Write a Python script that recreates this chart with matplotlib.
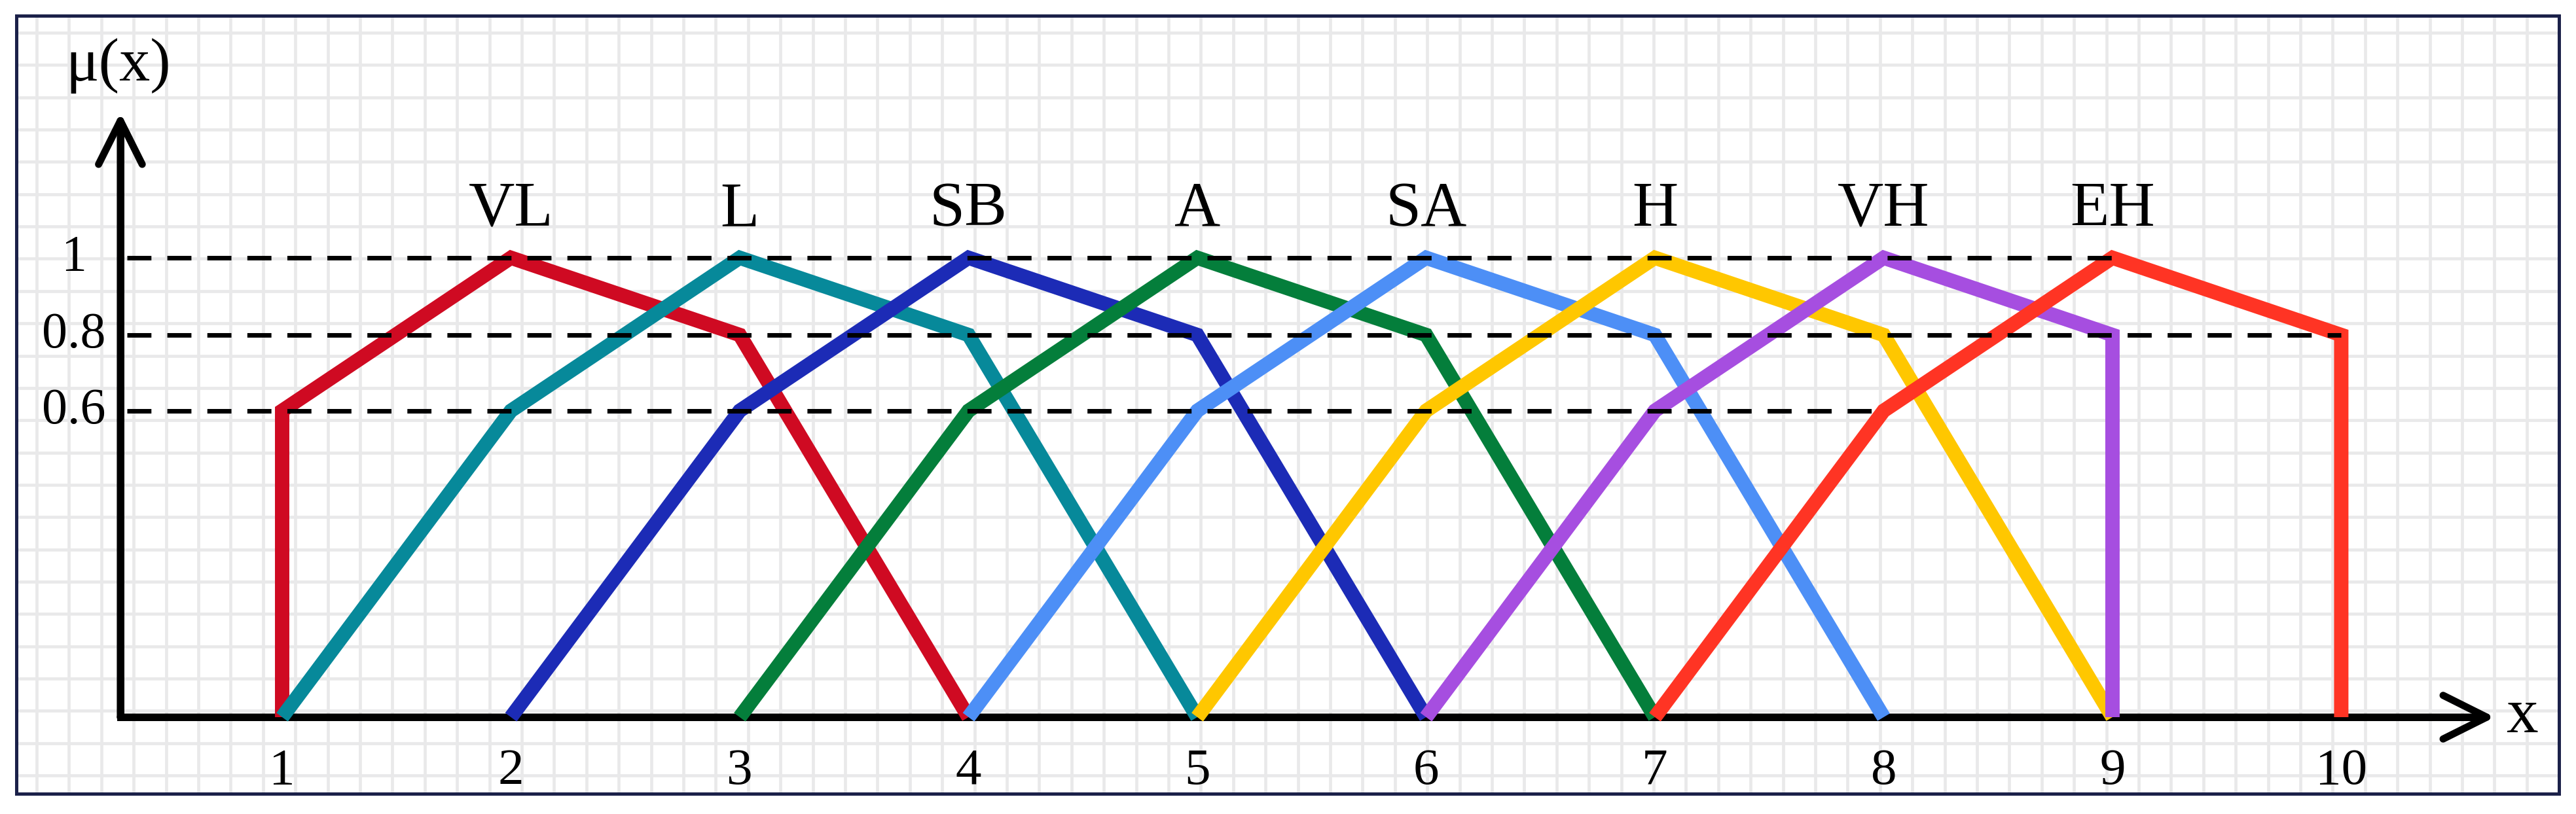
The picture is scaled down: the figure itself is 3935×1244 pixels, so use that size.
import numpy as np
import matplotlib
matplotlib.use("Agg")
import matplotlib.pyplot as plt

plt.rcParams['font.family'] = ['Liberation Serif', 'DejaVu Serif']

# fuzzy sets: break points (x) and membership degrees (mu)
labels = ['VL', 'L', 'SB', 'A', 'SA', 'H', 'VH', 'EH']
set_x = [
    [1, 1, 2, 3, 4],
    [1, 2, 3, 4, 5],
    [2, 3, 4, 5, 6],
    [3, 4, 5, 6, 7],
    [4, 5, 6, 7, 8],
    [5, 6, 7, 8, 9],
    [6, 7, 8, 9, 9],
    [7, 8, 9, 10, 10],
]
set_mu = [
    [0, 0.6, 1, 0.8, 0],
    [0, 0.6, 1, 0.8, 0],
    [0, 0.6, 1, 0.8, 0],
    [0, 0.6, 1, 0.8, 0],
    [0, 0.6, 1, 0.8, 0],
    [0, 0.6, 1, 0.8, 0],
    [0, 0.6, 1, 0.8, 0],
    [0, 0.6, 1, 0.8, 0],
]
peak_x = [2, 3, 4, 5, 6, 7, 8, 9]
colors = ['#cf0a22', '#07899a', '#1c2bb6', '#047e3b', '#4d8ff6',
          '#ffc700', '#a64ee0', '#ff3424']

# reference levels: value and how far the dashed line runs
levels = [1, 0.8, 0.6]
level_end = [9, 10, 8]
level_text = ['1', '0.8', '0.6']
x_ticks = [1, 2, 3, 4, 5, 6, 7, 8, 9, 10]

# the drawing is schematic: 0.6 / 0.8 / 1 are not spaced to scale
y_in = [-5, 0, 0.6, 0.8, 1, 5]
y_out = [-5, 0, 0.667, 0.832, 1, 1 + 4 * 0.84]


def fwd(y):
    return np.interp(y, y_in, y_out)


def inv(u):
    return np.interp(u, y_out, y_in)


W, H = 3935, 1244
fig = plt.figure(figsize=(W / 100, H / 100), dpi=100)

# background: squared paper inside a dark frame
bg = fig.add_axes([25 / W, (H - 1213) / H, (3909 - 25) / W, (1213 - 24) / H])
bg.set_zorder(0)
bg.set_xlim(25, 3909)
bg.set_ylim(1213, 24)
bg.set_xticks(np.arange(56, 3909, 49.4))
bg.set_yticks(np.arange(50, 1213, 49.35))
bg.grid(True, color='#e9e9ea', linewidth=3.4)
bg.tick_params(length=0, labelbottom=False, labelleft=False)
for s in bg.spines.values():
    s.set_color('#1b2149')
    s.set_linewidth(3.6)

ax = fig.add_axes([0, 0, 1, 1])
ax.set_zorder(1)
ax.patch.set_alpha(0)
ax.set_yscale('function', functions=(fwd, inv))
ax.set_xlim(-0.2332, 11.026)
ax.set_ylim(-0.2108, 1.668)
ax.axis('off')

x0 = 0.293      # where the vertical axis stands
y_tip = 1.376
x_tip = 10.671

# axes with open arrow heads
ax.plot([x0, x0, x_tip - 0.05], [y_tip - 0.05, 0, 0], color='black', lw=7.9,
        solid_joinstyle='miter', solid_capstyle='butt', zorder=2)
head = dict(arrowstyle='->, head_length=0.4, head_width=0.2', mutation_scale=120,
            lw=7.9, color='black', shrinkA=0, shrinkB=0, capstyle='round')
ax.annotate('', xy=(x0, y_tip), xytext=(x0, 0), arrowprops=head, zorder=2)
ax.annotate('', xy=(x_tip, 0), xytext=(x0, 0), arrowprops=head, zorder=2)

for xs, ms, c in zip(set_x, set_mu, colors):
    ax.plot(xs, ms, color=c, lw=15.8, solid_joinstyle='miter',
            solid_capstyle='butt', zorder=3)

for lv, end in zip(levels, level_end):
    ax.plot([x0 + 0.03, end], [lv, lv], color='black', lw=5,
            dashes=(5.3, 3.5), zorder=4)

for lv, t in zip(levels, level_text):
    ax.text(0.09, lv, t, fontsize=56, ha='center', va='center')

for px, lab in zip(peak_x, labels):
    ax.text(px, 1.083, lab, fontsize=70, ha='center', va='baseline')

for t in x_ticks:
    ax.text(t, -0.145, str(t), fontsize=57, ha='center', va='baseline')

ax.text(0.285, 1.46, 'μ(x)', fontsize=68, ha='center', va='baseline')
ax.text(10.79, 0, 'x', fontsize=70, ha='center', va='center')

fig.savefig('out.png', dpi=100)
